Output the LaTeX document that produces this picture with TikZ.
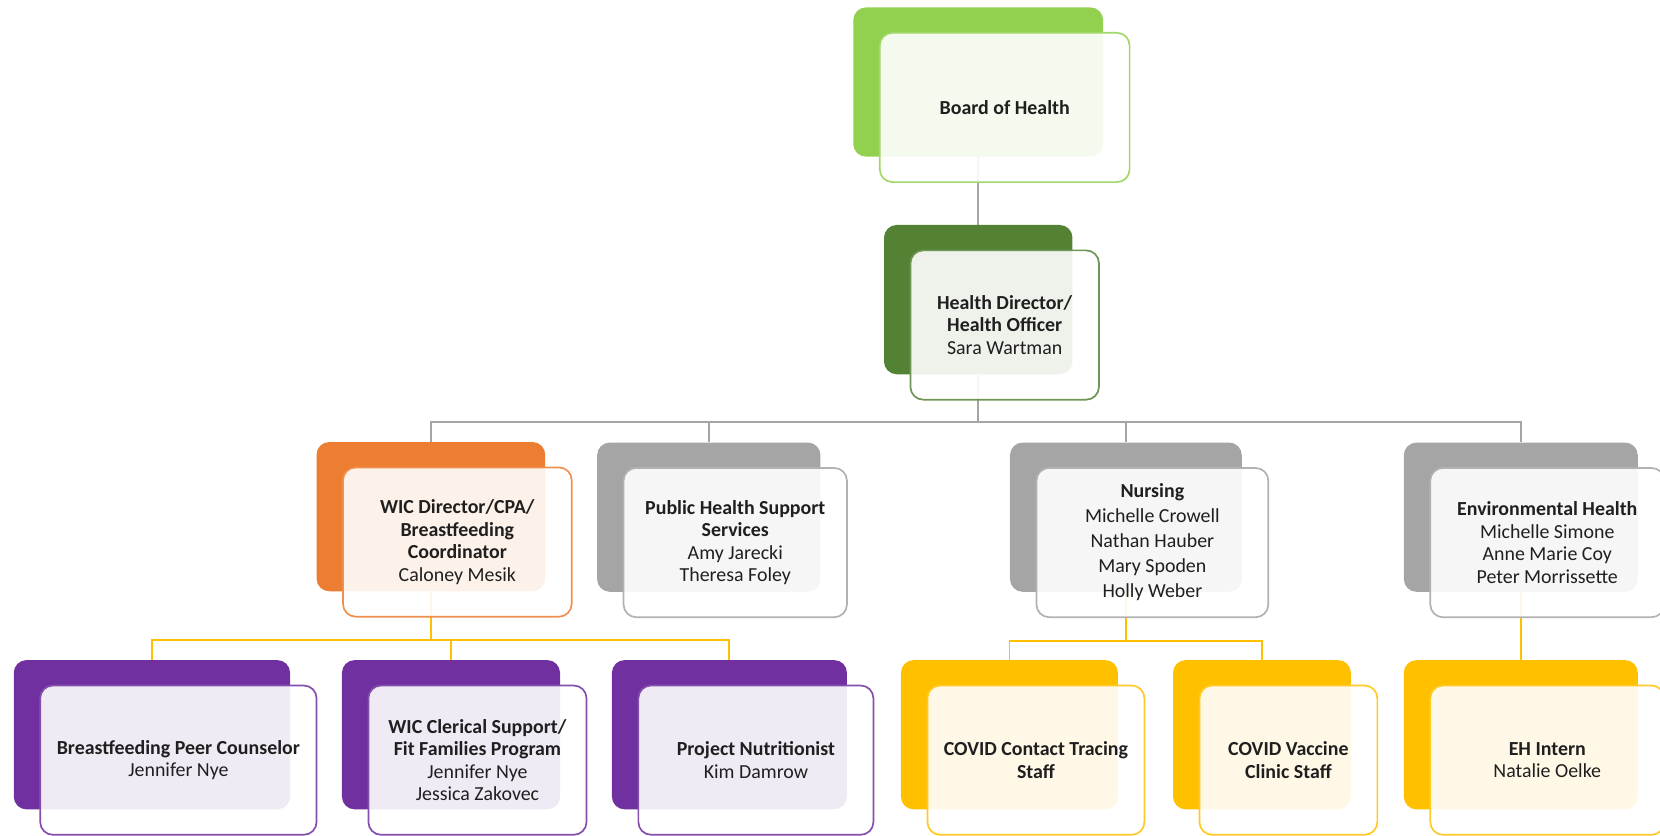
\documentclass[tikz,border=0pt]{standalone}
\usepackage{fontspec}
\setmainfont{Carlito}
\usepackage{tikz}
\usetikzlibrary{positioning,calc,backgrounds}

\definecolor{boardgreen}{HTML}{92D050}
\definecolor{darkgreen}{HTML}{548235}
\definecolor{wicorange}{HTML}{ED7D31}
\definecolor{deptgrey}{HTML}{A5A5A5}
\definecolor{staffpurple}{HTML}{7030A0}
\definecolor{staffyellow}{HTML}{FFC000}

\begin{document}
\begin{tikzpicture}[
    x=0.5pt, y=-0.5pt,
    back/.style={rectangle, rounded corners=6pt, minimum height=70.5pt, inner sep=0pt, fill=#1},
    front/.style={rectangle, rounded corners=6pt, minimum height=70.5pt, inner sep=2pt, align=center, draw=#1!85, line width=0.8pt, fill=white, fill opacity=0.9, text opacity=1, text=black!88, font=\fontsize{9.4}{10.6}\selectfont},
    grey line/.style={draw=deptgrey, line width=0.9pt},
    gold line/.style={draw=staffyellow, line width=0.9pt}
]
    \useasboundingbox (0,0) rectangle (1568,789);

    % --- Top ---
    \node[back=boardgreen, minimum width=118pt] (board-b) at (924,77.5) {};
    \node[front=boardgreen, minimum width=118pt] (board) at ([shift={(25,24)}]board-b.center) {\textbf{Board of Health}};

    \node[back=darkgreen, minimum width=89pt] (hd-b) at (924,283) {};
    \node[front=darkgreen, minimum width=89pt] (hd) at ([shift={(25,24)}]hd-b.center) {\textbf{Health Director/}\\\textbf{Health Officer}\\Sara Wartman};

    % --- Departments ---
    \node[back=wicorange, minimum width=108pt] (wic-b) at (407,488) {};
    \node[front=wicorange, minimum width=108pt] (wic) at ([shift={(25,24)}]wic-b.center) {\textbf{WIC Director/CPA/}\\\textbf{Breastfeeding}\\\textbf{Coordinator}\\Caloney Mesik};

    \node[back=deptgrey, minimum width=105.5pt] (phss-b) at (669.5,488.5) {};
    \node[front=deptgrey, minimum width=105.5pt] (phss) at ([shift={(25,24)}]phss-b.center) {\textbf{Public Health Support}\\\textbf{Services}\\Amy Jarecki\\Theresa Foley};

    \node[back=deptgrey, minimum width=109.5pt] (nursing-b) at (1063.5,488.5) {};
    \node[front=deptgrey, minimum width=109.5pt, font=\fontsize{9.4}{11.8}\selectfont] (nursing) at ([shift={(25,24)}]nursing-b.center) {\textbf{Nursing}\\Michelle Crowell\\Nathan Hauber\\Mary Spoden\\Holly Weber};

    \node[back=deptgrey, minimum width=110.5pt] (eh-b) at (1436.5,488.5) {};
    \node[front=deptgrey, minimum width=110.5pt] (eh) at ([shift={(25,24)}]eh-b.center) {\textbf{Environmental Health}\\Michelle Simone\\Anne Marie Coy\\Peter Morrissette};

    % --- Staff ---
    \node[back=staffpurple, minimum width=130.5pt] (bpc-b) at (143.5,694) {};
    \node[front=staffpurple, minimum width=130.5pt] (bpc) at ([shift={(25,24)}]bpc-b.center) {\textbf{Breastfeeding Peer Counselor}\\Jennifer Nye};

    \node[back=staffpurple, minimum width=103pt] (clerical-b) at (426,694) {};
    \node[front=staffpurple, minimum width=103pt] (clerical) at ([shift={(25,24)}]clerical-b.center) {\textbf{WIC Clerical Support/}\\\textbf{Fit Families Program}\\Jennifer Nye\\Jessica Zakovec};

    \node[back=staffpurple, minimum width=111pt] (nutri-b) at (689,694) {};
    \node[front=staffpurple, minimum width=111pt] (nutri) at ([shift={(25,24)}]nutri-b.center) {\textbf{Project Nutritionist}\\Kim Damrow};

    \node[back=staffyellow, minimum width=102.5pt] (tracing-b) at (953.5,694) {};
    \node[front=staffyellow, minimum width=102.5pt] (tracing) at ([shift={(25,24)}]tracing-b.center) {\textbf{COVID Contact Tracing}\\\textbf{Staff}};

    \node[back=staffyellow, minimum width=84pt] (vaccine-b) at (1192,694) {};
    \node[front=staffyellow, minimum width=84pt] (vaccine) at ([shift={(25,24)}]vaccine-b.center) {\textbf{COVID Vaccine}\\\textbf{Clinic Staff}};

    \node[back=staffyellow, minimum width=110.5pt] (intern-b) at (1436.5,694) {};
    \node[front=staffyellow, minimum width=110.5pt] (intern) at ([shift={(25,24)}]intern-b.center) {\textbf{EH Intern}\\Natalie Oelke};

    % --- Connections ---
    \begin{scope}[on background layer]
        \draw[grey line] (board-b.south) -- (hd-b.north);
        \coordinate (top-bar) at ($(hd-b.south)+(0,45)$);
        \draw[grey line] (hd-b.south) -- (top-bar);
        \foreach \n in {wic,phss,nursing,eh}
            \draw[grey line] (top-bar) -| (\n-b.north);

        \coordinate (wic-bar) at ($(wic-b.south)+(0,46)$);
        \draw[gold line] (wic-b.south) -- (wic-bar);
        \foreach \n in {bpc,clerical,nutri}
            \draw[gold line] (wic-bar) -| (\n-b.north);

        \coordinate (nursing-bar) at ($(nursing-b.south)+(0,46)$);
        \draw[gold line] (nursing-b.south) -- (nursing-bar);
        \foreach \n in {tracing,vaccine}
            \draw[gold line] (nursing-bar) -| (\n-b.north);

        \draw[gold line] (eh-b.south) -- (intern-b.north);
    \end{scope}

\end{tikzpicture}
\end{document}
